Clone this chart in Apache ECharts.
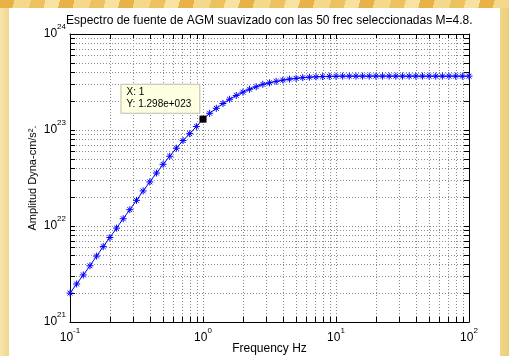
<!DOCTYPE html>
<html><head><meta charset="utf-8">
<script src="https://cdn.jsdelivr.net/npm/echarts@6/dist/echarts.min.js"></script>
<style>
html,body{margin:0;padding:0;width:509px;height:356px;overflow:hidden;}
body{background:linear-gradient(90deg,#f6e7b0 0,#f0d68a 9px,#f0d68a 500px,#eccd78 509px);}
#top{position:absolute;left:0;top:0;width:509px;height:8px;background:repeating-linear-gradient(105deg,#e8b248 0 14px,#f5d98a 14px 30px,#edc060 30px 44px,#f7e2a2 44px 58px);}
#panel{position:absolute;left:9px;top:8px;width:491px;height:348px;background:#ffffff;}
#chart{position:absolute;left:0;top:0;width:509px;height:356px;}
</style></head><body>
<div id="top"></div><div id="panel"></div><div id="chart"></div>
<script>
// ---- data ----
const freqHz = [0.1, 0.1122, 0.1259, 0.1413, 0.1585, 0.1778, 0.1995, 0.2239, 0.2512, 0.2818,
  0.3162, 0.3548, 0.3981, 0.4467, 0.5012, 0.5623, 0.6310, 0.7079, 0.7943, 0.8913,
  1, 1.122, 1.259, 1.413, 1.585, 1.778, 1.995, 2.239, 2.512, 2.818,
  3.162, 3.548, 3.981, 4.467, 5.012, 5.623, 6.310, 7.079, 7.943, 8.913,
  10, 11.22, 12.59, 14.13, 15.85, 17.78, 19.95, 22.39, 25.12, 28.18,
  31.62, 35.48, 39.81, 44.67, 50.12, 56.23, 63.10, 70.79, 79.43, 89.13, 100];
const amplitude = [2.00e21, 2.49e21, 3.09e21, 3.85e21, 4.86e21, 6.10e21, 7.59e21, 9.51e21, 1.19e22, 1.48e22,
  1.85e22, 2.32e22, 2.88e22, 3.56e22, 4.39e22, 5.33e22, 6.46e22, 7.76e22, 9.16e22, 1.086e23,
  1.298e23, 1.493e23, 1.683e23, 1.888e23, 2.09e23, 2.29e23, 2.48e23, 2.66e23, 2.82e23, 2.99e23,
  3.10e23, 3.21e23, 3.31e23, 3.39e23, 3.45e23, 3.51e23, 3.55e23, 3.58e23, 3.60e23, 3.62e23,
  3.63e23, 3.64e23, 3.64e23, 3.64e23, 3.64e23, 3.64e23, 3.64e23, 3.64e23, 3.64e23, 3.64e23,
  3.64e23, 3.64e23, 3.64e23, 3.64e23, 3.64e23, 3.64e23, 3.64e23, 3.64e23, 3.64e23, 3.64e23, 3.64e23];
const xRange = [0.1, 100];
const yRange = [1e21, 1e24];
const xMinorTicks = [0.2,0.3,0.4,0.5,0.6,0.7,0.8,0.9, 2,3,4,5,6,7,8,9, 20,30,40,50,60,70,80,90];
const yMinorTicks = [2e21,3e21,4e21,5e21,6e21,7e21,8e21,9e21, 2e22,3e22,4e22,5e22,6e22,7e22,8e22,9e22,
  2e23,3e23,4e23,5e23,6e23,7e23,8e23,9e23];
const titleText = 'Espectro de fuente de AGM suavizado con las 50 frec seleccionadas M=4.8.';
const xName = 'Frequency Hz';
const yName = 'Amplitud Dyna-cm/s\u00B2.';
const tipPoint = [1, 1.298e23];
const tipText = 'X: 1\nY: 1.298e+023';

// ---- chart ----
const FONT = 'Liberation Sans, Arial, sans-serif';
const chart = echarts.init(document.getElementById('chart'), null, {renderer: 'canvas'});
const rich = {
  b: {fontSize: 12, fontFamily: FONT, color: '#000', verticalAlign: 'middle'},
  s: {fontSize: 8, fontFamily: FONT, color: '#000', verticalAlign: 'middle', padding: [0, 0, 14, 0]}
};
function powLabel(v) {
  const e = Math.round(Math.log10(v));
  return '{b|10}{s|' + e + '}';
}
const gridData = [];
xMinorTicks.forEach(v => gridData.push([v, yRange[0], 0]));
yMinorTicks.forEach(v => gridData.push([xRange[0], v, 1]));
const TICK = 5, DOT = '#8a8a8a';
function renderGrid(params, api) {
  const dir = api.value(2);
  let children;
  if (dir === 0) {
    const a = api.coord([api.value(0), yRange[0]]);
    const b = api.coord([api.value(0), yRange[1]]);
    const x = Math.round(a[0]) + 0.5;
    children = [
      {type: 'line', shape: {x1: x, y1: b[1], x2: x, y2: a[1]}, style: {stroke: DOT, lineWidth: 1, lineDash: [1, 2]}},
      {type: 'line', shape: {x1: x, y1: a[1], x2: x, y2: a[1] - TICK}, style: {stroke: '#000', lineWidth: 1}},
      {type: 'line', shape: {x1: x, y1: b[1], x2: x, y2: b[1] + TICK}, style: {stroke: '#000', lineWidth: 1}}
    ];
  } else {
    const a = api.coord([xRange[0], api.value(1)]);
    const b = api.coord([xRange[1], api.value(1)]);
    const y = Math.round(a[1]) + 0.5;
    children = [
      {type: 'line', shape: {x1: a[0], y1: y, x2: b[0], y2: y}, style: {stroke: DOT, lineWidth: 1, lineDash: [1, 2]}},
      {type: 'line', shape: {x1: a[0], y1: y, x2: a[0] + TICK, y2: y}, style: {stroke: '#000', lineWidth: 1}},
      {type: 'line', shape: {x1: b[0], y1: y, x2: b[0] - TICK, y2: y}, style: {stroke: '#000', lineWidth: 1}}
    ];
  }
  return {type: 'group', children: children};
}
const axisLine = {show: true, onZero: false, lineStyle: {color: '#000', width: 1}};
const axisTick = {show: true, inside: true, length: TICK, lineStyle: {color: '#000', width: 1}};
const splitLine = {show: true, lineStyle: {color: DOT, width: 1, type: [1, 2]}};
const xBase = {type: 'log', logBase: 10, min: xRange[0], max: xRange[1], splitNumber: 3,
  axisLine: axisLine, axisTick: axisTick, minorTick: {show: false}, minorSplitLine: {show: false}};
const yBase = {type: 'log', logBase: 10, min: yRange[0], max: yRange[1], splitNumber: 3,
  axisLine: axisLine, axisTick: axisTick, minorTick: {show: false}, minorSplitLine: {show: false}};

chart.setOption({
  animation: false,
  backgroundColor: 'transparent',
  title: {text: titleText, left: 66, top: 15, padding: 0,
    textStyle: {fontSize: 12, fontWeight: 'normal', color: '#000', fontFamily: FONT}},
  grid: {left: 70, top: 34, width: 399, height: 288, containLabel: false, outerBoundsMode: 'none'},
  xAxis: [
    Object.assign({}, xBase, {position: 'bottom', splitLine: splitLine,
      axisLabel: {margin: 5, formatter: powLabel, rich: rich},
      name: xName, nameLocation: 'middle', nameGap: 21, nameMoveOverlap: false,
      nameTextStyle: {fontSize: 12, color: '#000', fontFamily: FONT}}),
    Object.assign({}, xBase, {position: 'top', splitLine: {show: false}, axisLabel: {show: false}})
  ],
  yAxis: [
    Object.assign({}, yBase, {position: 'left', splitLine: splitLine,
      axisLabel: {margin: 4, formatter: powLabel, rich: rich},
      name: yName, nameLocation: 'middle', nameGap: 32, nameMoveOverlap: false,
      nameTextStyle: {fontSize: 11, color: '#000', fontFamily: FONT}}),
    Object.assign({}, yBase, {position: 'right', splitLine: {show: false}, axisLabel: {show: false}})
  ],
  series: [
    {type: 'custom', coordinateSystem: 'cartesian2d', xAxisIndex: 0, yAxisIndex: 0, silent: true, z: 1,
      data: gridData, renderItem: renderGrid, clip: false},
    {type: 'line', xAxisIndex: 0, yAxisIndex: 0, z: 3,
      data: freqHz.map((f, i) => [f, amplitude[i]]),
      lineStyle: {color: '#0000ff', width: 1},
      symbol: 'path://M0,4L8,4M4,0L4,8M1.2,1.2L6.8,6.8M6.8,1.2L1.2,6.8',
      symbolSize: 7, showAllSymbol: true,
      itemStyle: {color: '#0000ff', borderColor: '#0000ff', borderWidth: 1},
      emphasis: {disabled: true},
      markPoint: {
        silent: true, z: 5,
        data: [{coord: tipPoint, value: tipText}],
        symbol: 'rect', symbolSize: 7,
        itemStyle: {color: '#000'},
        label: {show: true, formatter: tipText, position: [-78, -31],
          fontSize: 10, fontFamily: FONT, color: '#000', lineHeight: 12,
          backgroundColor: '#ffffe1', borderColor: '#bdbdaa', borderWidth: 1,
          padding: [2, 8, 2, 5], align: 'left', verticalAlign: 'top'}
      }}
  ]
});
</script>
</body></html>
